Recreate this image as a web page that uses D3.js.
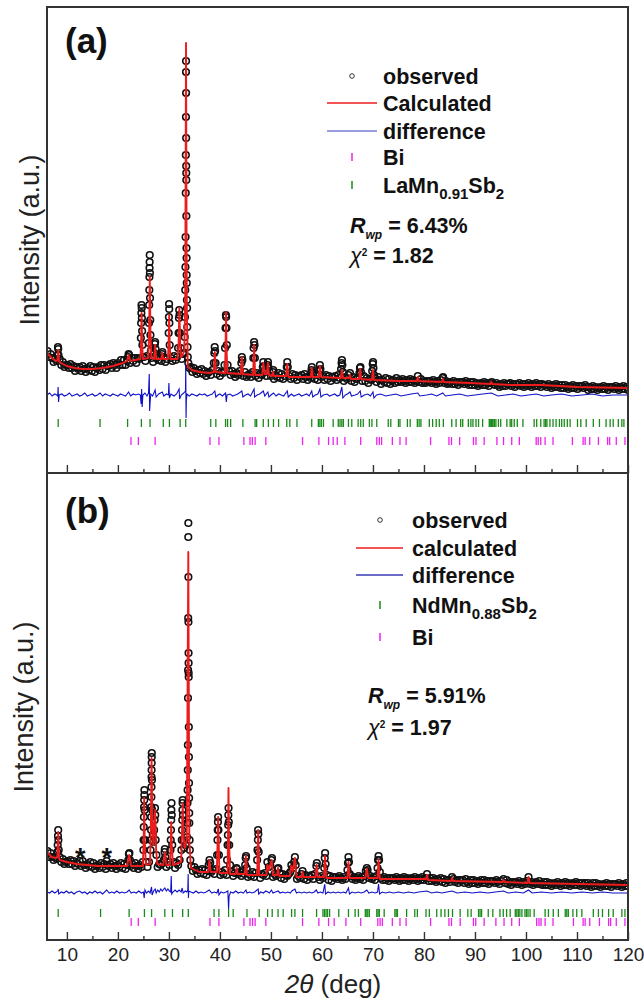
<!DOCTYPE html>
<html><head><meta charset="utf-8">
<script src="https://cdn.jsdelivr.net/npm/d3@7"></script>
<style>
body{margin:0;background:#fff}
svg{display:block;font-family:"Liberation Sans",Arial,Helvetica,sans-serif}
</style>
</head><body>
<svg id="chart" width="644" height="998"></svg>
<script>
// ---------- DATA (2theta in deg, intensity in a.u.) ----------
const xMajorTicks = [10,20,30,40,50,60,70,80,90,100,110,120];
const xMinorTicks = [15,25,35,45,55,65,75,85,95,105,115];

// Panel (a) LaMn0.91Sb2 : observed
const obsA = [[6.2,122],[6.5,116],[6.8,119],[7.1,115],[7.4,111],[7.7,114],[8.0,112],[8.2,118],[8.25,126],[8.3,124],[8.35,118],[8.6,114],[8.9,108],[9.2,111],[9.5,106],[9.8,108],[10.1,108],[10.4,105],[10.7,109],[11.0,105],[11.3,107],[11.6,102],[11.9,106],[12.2,104],[12.5,106],[12.8,102],[13.1,107],[13.4,104],[13.7,101],[14.0,105],[14.3,103],[14.6,107],[14.9,102],[15.2,106],[15.5,101],[15.8,105],[16.1,106],[16.4,103],[16.7,108],[17.0,104],[17.3,108],[17.6,103],[17.9,107],[18.2,107],[18.5,109],[18.8,105],[19.1,110],[19.4,108],[19.7,105],[20.0,110],[20.3,108],[20.6,113],[20.9,108],[21.2,113],[21.5,108],[21.8,112],[22.0,116],[22.1,119],[22.2,118],[22.4,110],[22.7,115],[23.0,112],[23.3,115],[23.6,110],[23.9,115],[24.2,114],
[24.5,135],[24.55,150],[24.6,160],[24.63,168],[24.67,165],[24.7,155],[24.75,142],[24.8,128],[24.9,116],[25.1,116],[25.4,112],[25.7,117],
[26.05,130],[26.1,150],[26.13,168],[26.16,183],[26.18,196],[26.2,205],[26.22,211],[26.24,218],[26.27,200],[26.3,175],[26.34,153],[26.38,138],[26.45,122],[26.6,115],[26.9,111],
[27.15,120],[27.25,129],[27.3,131],[27.38,124],[27.6,115],[27.9,113],[28.2,117],[28.5,112],[28.65,119],[28.72,121],[29.0,116],[29.3,111],[29.6,114],
[29.95,140],[30.0,156],[30.03,169],[30.06,164],[30.1,150],[30.15,128],[30.4,115],[30.7,112],[31.0,117],[31.3,113],[31.6,116],
[31.8,125],[31.9,140],[31.97,155],[32.02,163],[32.08,158],[32.15,140],[32.3,125],[32.5,114],[32.8,119],
[33.0,120],[33.1,136],[33.15,156],[33.2,183],[33.24,206],[33.27,236],[33.3,280],[33.32,318],[33.34,356],[33.35,401],[33.36,412],[33.37,380],[33.38,335],[33.39,307],[33.4,300],[33.41,293],[33.42,257],[33.44,225],[33.46,215],[33.48,198],[33.5,190],[33.53,173],[33.56,165],[33.6,146],[33.65,126],[33.7,116],[33.8,110],[34.0,105],
[34.3,106],[34.6,101],[34.9,105],[35.2,102],[35.5,99],[35.8,103],[36.1,100],[36.4,104],[36.7,99],[37.0,102],[37.3,97],[37.6,100],[37.9,101],[38.2,98],[38.5,103],
[38.8,110],[38.9,120],[38.98,126],[39.05,122],[39.15,110],[39.4,99],[39.7,102],[40.0,97],[40.3,101],[40.6,100],
[40.9,108],[41.0,125],[41.1,145],[41.17,158],[41.22,156],[41.28,145],[41.35,128],[41.5,108],[41.8,102],[42.1,98],[42.4,102],[42.7,99],[43.0,96],[43.3,100],[43.6,98],[43.9,102],
[44.2,110],[44.3,116],[44.4,113],[44.6,97],[44.9,101],[45.2,96],[45.5,98],[45.8,99],[46.1,96],[46.4,101],
[46.55,115],[46.6,125],[46.7,131],[46.78,128],[46.85,115],[47.0,97],[47.3,100],[47.6,95],[47.9,99],[48.2,98],[48.4,106],[48.5,111],[48.6,107],[48.8,101],[49.1,97],[49.35,108],[49.42,111],[49.5,106],[49.7,101],[50.0,97],[50.35,101],[50.45,103],[50.6,94],[50.9,98],[51.2,96],[51.5,100],[51.8,95],[52.1,99],[52.4,94],[52.7,97],[53.1,106],[53.2,111],[53.3,106],[53.6,97],[53.9,94],[54.2,99],[54.5,95],[54.8,98],[55.1,93],[55.4,97],[55.7,96],[56.0,98],[56.3,94],[56.6,99],[56.9,96],[57.2,93],[57.5,97],[57.8,95],[57.95,103],[58.02,106],[58.1,101],[58.3,99],[58.6,94],[58.9,98],[59.2,93],[59.5,103],[59.6,108],[59.7,104],[59.9,96],[60.2,97],[60.5,93],[60.8,98],[61.1,94],[61.4,97],[61.7,92],[62.0,96],[62.3,95],[62.6,97],[62.9,93],[63.2,98],[63.5,95],
[63.75,104],[63.85,110],[63.92,113],[64.0,108],[64.1,101],[64.3,92],[64.6,96],[64.9,94],[65.2,98],[65.5,100],[65.8,92],[66.1,96],[66.4,91],[66.7,94],[67.0,95],[67.35,100],[67.45,105],[67.55,106],[67.65,101],[67.9,92],[68.2,97],[68.5,92],[68.8,95],[69.1,90],[69.4,94],[69.7,93],[69.85,102],[69.95,109],[70.02,111],[70.1,105],[70.2,98],[70.4,95],[70.7,91],[71.0,96],[71.3,93],[71.6,89],[71.9,93],[72.2,91],[72.5,95],[72.8,90],[73.1,94],[73.4,89],[73.7,92],[74.0,93],[74.3,90],[74.6,95],[74.9,91],
[75.2,93],[75.5,91],[75.8,94],[76.1,92],[76.4,90],[76.7,93],[77.0,91],[77.3,94],[77.6,91],[77.9,93],[78.2,90],[78.5,92],[78.8,97],[79.1,91],[79.4,94],[79.7,90],[80.0,92],[80.3,90],[80.6,92],[80.9,91],[81.2,92],[81.5,90],[81.8,93],[82.1,91],[82.4,89],[82.7,92],[83.0,90],[83.3,93],[83.65,95],[83.75,96],[84.0,90],[84.3,92],[84.6,89],[84.9,90],[85.2,91],[85.5,89],[85.8,92],[86.1,89],[86.4,91],[86.7,88],[87.0,91],[87.3,90],[87.6,91],[87.9,89],[88.2,92],[88.5,90],[88.8,88],[89.1,91],[89.4,88],[89.7,91],[90.0,88],[90.3,90],[90.6,87],[90.9,89],[91.2,90],[91.5,88],[91.8,91],[92.1,88],[92.4,90],[92.7,87],[93.0,90],[93.3,91],[93.6,89],[93.9,88],[94.2,90],[94.5,88],[94.8,86],[95.1,89],[95.4,87],[95.7,90],[96.0,87],[96.3,89],[96.6,89],[96.9,90],[97.2,87],[97.5,89],[97.8,86],[98.1,89],[98.4,88],[98.7,90],[99.0,87],[99.3,89],[99.6,86],[99.9,89],[100.2,87],[100.5,90],[100.8,88],[101.1,86],[101.4,89],[101.7,87],[102.0,90],[102.3,87],[102.6,89],[102.9,86],[103.2,89],[103.5,88],[103.8,88],[104.1,86],[104.4,89],[104.7,87],[105.0,85],[105.3,88],[105.6,86],[105.9,89],[106.2,86],[106.5,88],[106.8,85],[107.1,88],[107.4,85],[107.7,88],[108.0,86],[108.3,84],[108.6,87],[108.9,85],[109.2,88],[109.5,85],[109.8,87],[110.1,84],[110.4,87],[110.7,86],[111.0,87],[111.3,85],[111.6,88],[111.9,86],[112.2,83],[112.5,86],[112.8,84],[113.1,87],[113.4,84],[113.7,86],[114.0,83],[114.3,85],[114.6,86],[114.9,84],[115.2,87],[115.5,84],[115.8,86],[116.1,83],[116.4,86],[116.7,85],[117.0,86],[117.3,84],[117.6,87],[117.9,85],[118.2,83],[118.5,86],[118.8,84],[119.1,87],[119.4,84],[119.7,86],[120.0,83]];

const calcA = [[6.1,120],[7.0,115],[7.9,112],[8.15,113],[8.3,123],[8.45,112],[8.8,110],[10,107],[11.5,105],[13,104],[15,104],[17,105],[19,107],[21,110],[21.8,112],[22.1,118],[22.4,112],[24.4,114],[24.55,130],[24.65,160],[24.75,130],[24.9,114],[25.95,115],[26.12,140],[26.25,196],[26.38,140],[26.55,115],[27.1,114],[27.3,128],[27.5,114],[28.5,114],[28.7,120],[28.9,114],[29.8,114],[29.95,130],[30.05,158],[30.15,130],[30.3,114],[31.7,114],[31.9,130],[32.05,165],[32.2,130],[32.35,116],[32.6,117],[33.0,122],[33.2,170],[33.35,430],[33.5,170],[33.7,106],[34.5,103],[36,101],[38,100],[38.8,101],[39.0,121],[39.2,101],[41.0,100],[41.1,125],[41.2,161],[41.3,125],[41.45,100],[44.1,99],[44.3,116],[44.5,99],[46.5,98],[46.7,128],[46.9,98],[48.3,98],[48.5,110],[48.8,99],[49.2,99],[49.4,110],[49.6,98],[50.2,97],[50.4,101],[50.6,97],[53.0,97],[53.2,109],[53.45,96],[57.8,96],[58.0,105],[58.2,96],[59.4,96],[59.6,107],[59.85,96],[63.7,95],[63.9,103],[64.1,95],[65.3,95],[65.5,98],[65.7,94],[67.3,94],[67.5,104],[67.7,94],[69.8,93],[70.0,103],[70.2,93],[75,92],[78.6,92],[78.8,96],[79.0,92],[83.5,91],[83.7,94],[83.9,91],[89,90],[93,89],[93.2,91],[93.4,89],[97,88],[100,88],[103,88],[110,86],[120,85]];

const diffA = [[6.1,78],[6.6,80],[7.1,77],[7.6,79],[8.0,78],[8.2,77],[8.28,86],[8.36,71],[8.5,78],[9.0,79],[9.5,77],[10.0,78],[10.5,80],[11.0,77],[11.5,78],[12.0,79],[12.5,77],[13.0,78],[13.5,80],[14.0,77],[14.5,78],[15.0,79],[15.5,77],[16.0,78],[16.5,80],[17.0,77],[17.5,79],[18.0,78],[18.5,77],[19.0,79],[19.5,78],[20.0,77],[20.5,79],[21.0,78],[21.5,77],[22.1,81],[22.5,77],[23.0,79],[23.5,78],[24.0,79],[24.4,78],[24.55,69],[24.65,84],[24.75,66],[24.9,78],[25.3,80],[25.7,77],[26.0,80],[26.15,99],[26.22,62],[26.3,70],[26.45,79],[26.8,77],[27.3,83],[27.5,76],[28.0,79],[28.7,81],[29.0,77],[29.5,79],[29.9,78],[30.0,90],[30.1,75],[30.4,79],[31.0,77],[31.5,79],[32.0,84],[32.1,74],[32.4,78],[32.9,80],[33.25,82],[33.3,108],[33.36,55],[33.42,73],[33.55,79],[34.0,77],[34.5,79],[35.0,78],[35.5,77],[36.0,79],[36.5,78],[37.0,79],[37.5,77],[38.0,78],[38.5,79],[39.0,82],[39.2,76],[39.6,78],[40.0,79],[40.5,77],[41.1,80],[41.25,71],[41.4,78],[42.0,79],[42.5,77],[43.0,78],[43.5,79],[44.3,82],[44.5,76],[45.0,78],[45.5,79],[46.0,77],[46.7,84],[46.8,76],[47.3,78],[47.8,79],[48.5,82],[48.8,77],[49.4,81],[49.6,76],[50.0,78],[50.5,80],[51.0,77],[51.5,79],[52.0,78],[52.5,77],[53.2,82],[53.4,76],[54.0,79],[54.5,77],[55.0,78],[55.5,79],[56.0,77],[56.5,78],[57.0,79],[57.5,77],[58.0,82],[58.2,76],[58.7,78],[59.2,79],[59.6,84],[59.8,76],[60.3,78],[61.0,79],[61.5,77],[62.0,78],[62.5,79],[63.0,77],[63.5,78],[63.9,86],[64.1,75],[64.6,78],[65.0,79],[65.5,81],[65.8,77],[66.5,78],[67.0,79],[67.5,82],[67.7,76],[68.3,78],[69.0,79],[69.5,77],[70.0,81],[70.2,75],[70.7,78],[71.5,79],[72.5,77],[73.5,78],[74.5,79],[75.5,77],[76.5,78],[77.5,79],[78.8,80],[79.2,77],[80.5,78],[81.5,79],[82.5,77],[83.7,80],[84.2,77],[85.5,78],[87,79],[88.5,77],[90,78],[91.5,79],[93.2,80],[94.5,77],[96,78],[97.5,79],[99,77],[100.5,78],[102,79],[103.5,77],[105,78],[107,79],[109,77],[111,78],[113,79],[115,77],[117,78],[120,78]];

const lamnTicks = [8.3,16.5,21.9,24.6,26.3,28.9,30.1,32.2,33.3,38.2,39.2,41.1,41.5,42.1,44.5,46.9,47.2,48.5,49.5,50.5,51.5,53.1,53.7,55.1,58.0,59.3,59.6,59.9,60.3,62.2,63.2,63.55,63.9,64.2,65.2,65.85,67.1,67.6,68.1,69.3,69.8,70.75,73.0,73.5,75.0,75.3,76.75,77.3,78.7,79.05,79.4,81.05,81.7,82.4,83.0,83.8,85.45,86.3,87.2,87.6,88.7,89.2,89.6,90.2,90.7,91.5,92.8,93.0,93.2,93.4,93.55,93.8,94.1,94.6,95.05,96.25,96.9,97.2,97.7,98.3,99.4,101.6,102.1,102.9,103.55,103.85,104.1,104.7,105.3,105.9,106.55,107.0,107.5,108.1,108.65,110.1,110.75,111.8,113.2,114.4,115.7,116.5,117.1,118.1,118.8,119.2];
const biTicksA = [22.57,24.0,27.3,38.05,39.8,44.7,45.9,46.35,46.9,49.0,56.2,59.4,61.3,62.2,63.0,64.5,67.6,70.75,71.25,71.7,73.8,75.3,76.5,81.3,84.9,85.4,87.0,89.7,90.2,91.8,94.3,95.6,97.2,98.7,102.0,102.4,102.9,103.75,105.3,109.1,111.2,111.6,112.5,114.2,116.0,116.4,117.7,119.4];

// Panel (b) NdMn0.88Sb2 : observed
const obsB = [[6.2,89],[6.5,83],[6.8,87],[7.1,83],[7.4,80],[7.7,83],[8.0,81],[8.15,88],[8.2,95],[8.25,104],[8.3,110],[8.33,100],[8.4,90],[8.6,83],[8.9,78],[9.2,81],[9.5,76],[9.8,78],[10.1,79],[10.4,76],[10.7,80],[11.0,76],[11.3,79],[11.6,74],[11.9,77],[12.2,76],[12.5,79],[12.8,74],[13.1,79],[13.4,75],[13.7,72],[14.0,76],[14.3,74],[14.6,78],[14.9,73],[15.2,77],[15.5,71],[15.8,74],[16.1,75],[16.4,72],[16.7,77],[17.0,73],[17.3,76],[17.6,71],[17.8,79],[17.9,75],[18.2,74],[18.5,76],[18.8,72],[19.1,77],[19.4,74],[19.7,71],[20.0,75],[20.3,73],[20.6,77],[20.9,72],[21.2,76],[21.5,71],[21.8,75],[22.05,80],[22.15,86],[22.25,87],[22.35,80],[22.5,74],[22.8,76],[23.1,72],[23.4,77],[23.7,74],[24.0,71],[24.3,75],[24.6,73],[24.85,78],
[25.0,90],[25.04,100],[25.07,113],[25.1,123],[25.13,133],[25.16,140],[25.18,145],[25.2,150],[25.24,130],[25.32,100],[25.5,78],[25.8,73],[26.1,78],
[26.4,90],[26.45,100],[26.5,110],[26.53,123],[26.55,133],[26.57,143],[26.58,153],[26.6,163],[26.61,170],[26.62,177],[26.63,183],[26.64,187],[26.67,160],[26.72,130],[26.85,105],[26.95,98],
[27.1,110],[27.2,120],[27.27,132],[27.32,125],[27.4,100],[27.55,85],[27.8,73],[28.1,76],[28.4,75],[28.7,77],[29.0,80],[29.15,88],[29.2,91],[29.3,83],[29.5,73],[29.8,78],[30.1,75],
[30.3,90],[30.36,100],[30.41,110],[30.45,120],[30.48,130],[30.51,137],[30.56,125],[30.65,95],[30.9,78],[31.2,72],[31.5,77],[31.8,75],[32.1,80],
[32.45,90],[32.52,100],[32.57,110],[32.62,120],[32.65,130],[32.68,137],[32.7,140],[32.75,125],[32.85,100],[33.0,92],[33.3,95],
[33.55,103],[33.6,117],[33.64,137],[33.67,150],[33.7,170],[33.72,195],[33.74,242],[33.76,270],[33.78,322],[33.8,403],[33.81,417],[33.82,363],[33.83,318],[33.85,287],[33.86,277],[33.87,267],[33.88,263],[33.9,213],[33.92,183],[33.94,157],[33.96,142],[33.98,127],[34.0,117],[34.05,100],[34.1,90],[34.2,80],
[34.4,74],[34.7,69],[35.0,73],[35.3,70],[35.6,66],[35.9,70],[36.2,67],[36.5,71],[36.8,66],[37.1,70],[37.4,65],[37.7,69],[37.8,75],[37.95,80],[38.1,77],[38.3,68],[38.6,70],[38.9,66],[39.2,71],
[39.45,85],[39.52,100],[39.57,110],[39.61,118],[39.65,123],[39.7,110],[39.8,85],[40.1,65],[40.4,68],[40.7,66],[41.0,70],[41.3,65],
[41.4,80],[41.5,95],[41.56,105],[41.61,115],[41.65,125],[41.69,132],[41.74,118],[41.82,95],[42.0,75],[42.3,68],[42.6,64],[42.9,67],[43.25,72],[43.35,71],[43.6,66],[43.9,68],[44.2,64],[44.5,69],[44.8,66],
[44.95,75],[45.05,82],[45.12,84],[45.25,72],[45.5,63],[45.8,66],[46.1,64],[46.4,68],[46.7,63],[47.0,67],
[47.3,80],[47.37,90],[47.43,100],[47.48,110],[47.53,106],[47.6,88],[47.9,62],[48.2,66],[48.5,65],[48.8,67],[49.1,64],[49.3,78],[49.6,73],[49.9,74],[50.1,80],[50.2,82],[50.4,63],[50.7,66],[51.0,64],[51.35,71],[51.45,72],[51.7,67],[52.0,62],[52.3,66],[52.6,61],[52.9,65],[53.2,64],[53.5,66],[53.8,68],[54.0,75],[54.3,72],[54.55,78],[54.7,83],[54.85,75],[55.1,61],[55.4,64],[55.7,62],[56.0,66],[56.2,69],[56.5,61],[56.8,65],[57.1,60],[57.4,64],[57.7,63],[58.0,65],[58.3,61],[58.6,66],[58.9,74],[59.0,77],[59.3,63],[59.6,60],[59.9,64],[60.2,62],[60.45,72],[60.55,82],[60.62,87],[60.72,76],[61.0,65],[61.3,60],[61.6,64],[61.9,59],[62.2,63],[62.5,62],
[62.8,63],[63.1,61],[63.4,64],[63.7,62],[64.0,60],[64.3,63],[64.6,61],[65.0,70],[65.1,77],[65.2,83],[65.3,78],[65.45,66],[65.7,64],[66.0,61],[66.3,63],[66.6,60],[66.9,62],[67.2,64],[67.5,61],[67.8,63],[68.1,60],[68.4,64],[68.6,69],[68.8,72],[68.95,70],[69.2,62],[69.5,64],[69.8,61],[70.1,63],[70.4,60],[70.7,64],[70.9,72],[71.0,80],[71.1,84],[71.2,80],[71.35,68],
[71.6,62],[71.9,60],[72.2,63],[72.5,60],[72.8,62],[73.1,59],[73.4,62],[73.7,61],[74.0,62],[74.3,60],[74.6,63],[74.9,61],[75.2,59],[75.5,62],[75.8,60],[76.1,63],[76.4,60],[76.7,62],[77.0,59],[77.3,61],[77.6,62],[77.9,60],[78.2,63],[78.5,61],[78.8,59],[79.1,62],[79.4,60],[79.7,63],[80.0,60],[80.3,62],[80.6,66],[80.9,59],[81.2,62],[81.5,59],[81.8,62],[82.1,60],[82.4,58],[82.7,61],[83.0,59],[83.3,62],[83.6,58],[83.9,61],[84.2,57],[84.5,60],[84.8,60],[85.1,58],[85.5,63],[85.8,61],[86.1,58],[86.4,60],[86.7,57],[87.0,60],[87.3,59],[87.6,60],[87.9,57],[88.2,61],[88.5,58],[88.8,56],[89.1,60],[89.4,57],[89.7,60],[90.0,57],[90.3,59],[90.6,56],[90.9,58],[91.2,60],[91.5,57],[91.8,60],[92.1,57],[92.4,59],[92.7,56],[93.0,59],[93.3,58],[93.6,59],[93.9,57],[94.2,60],[94.5,58],[94.8,56],[95.1,59],[95.6,61],[95.9,57],[96.2,60],[96.5,56],[96.8,58],[97.1,55],[97.4,58],[97.7,57],[98.0,58],[98.3,56],[98.6,59],[98.9,57],[99.2,55],[99.5,58],[99.8,56],[100.2,59],[100.5,63],[100.8,56],[101.1,58],[101.4,55],[101.7,57],[102.0,58],[102.3,56],[102.6,59],[102.9,56],[103.2,55],[103.5,58],[103.8,55],[104.1,58],[104.4,55],[104.7,57],[105.0,54],[105.3,56],[105.6,57],[105.9,55],[106.2,58],[106.5,56],[106.8,54],[107.1,57],[107.4,55],[107.7,58],[108.0,55],[108.3,57],[108.6,54],[108.9,56],[109.2,57],[109.5,55],[109.8,58],[110.1,55],[110.4,57],[110.7,54],[111.0,57],[111.3,55],[111.6,57],[111.9,54],[112.2,57],[112.5,55],[112.8,53],[113.1,57],[113.4,54],[113.7,57],[114.0,54],[114.3,56],[114.6,53],[114.9,55],[115.2,56],[115.5,54],[115.8,57],[116.1,54],[116.4,56],[116.7,53],[117.0,56],[117.3,55],[117.6,56],[117.9,54],[118.2,57],[118.5,55],[118.8,53],[119.1,56],[119.4,54],[119.7,57],[120.0,54]];

const calcB = [[6.1,88],[7.0,83],[7.9,82],[8.15,84],[8.3,108],[8.45,82],[8.6,80],[10,78],[12,76],[14,75],[16,74],[18,74],[20,74],[21.8,74],[22.2,85],[22.6,74],[24.9,74],[25.05,100],[25.15,142],[25.25,100],[25.5,75],[26.3,76],[26.45,110],[26.6,182],[26.75,120],[26.95,95],[27.3,130],[27.5,90],[27.7,76],[28.9,75],[29.2,88],[29.5,75],[30.2,75],[30.35,95],[30.45,118],[30.55,95],[30.8,75],[32.4,78],[32.55,105],[32.7,137],[32.85,105],[33.1,92],[33.5,100],[33.8,388],[34.0,100],[34.3,72],[36,68],[37.7,68],[37.95,80],[38.2,68],[39.4,68],[39.65,123],[39.9,67],[41.5,67],[41.58,100],[41.68,152],[41.78,100],[42.0,66],[43.1,66],[43.3,72],[43.5,66],[44.9,66],[45.1,84],[45.3,65],[47.3,65],[47.5,110],[47.7,65],[49.1,65],[49.3,75],[49.6,70],[50.15,80],[50.4,65],[51.2,65],[51.4,72],[51.6,64],[53.7,64],[54.0,74],[54.3,69],[54.7,82],[55.0,63],[56.0,63],[56.2,68],[56.4,63],[58.75,63],[58.95,75],[59.2,63],[60.4,63],[60.6,84],[60.85,62],[65.0,62],[65.2,78],[65.45,62],[68.5,62],[68.8,71],[69.1,62],[70.9,62],[71.1,80],[71.35,61],[80.4,61],[80.6,65],[80.8,60],[85.3,59],[85.5,62],[85.7,59],[95.4,58],[95.6,60],[95.8,58],[100.3,57],[100.5,63],[100.7,57],[110,56],[120,55]];

const diffB = [[6.1,48],[6.6,47],[7.1,49],[7.6,47],[8.2,49],[8.3,51],[8.4,46],[8.9,48],[9.4,47],[9.9,49],[10.4,47],[10.9,48],[11.4,46],[11.9,48],[12.5,49],[13.0,47],[13.5,48],[14.0,46],[14.5,48],[15.0,47],[15.5,49],[16.0,47],[16.5,48],[17.0,46],[17.8,50],[18.3,47],[18.8,48],[19.3,47],[19.8,49],[20.3,47],[20.8,48],[21.3,47],[21.8,48],[22.2,50],[22.6,47],[23.1,48],[23.6,47],[24.1,49],[24.6,47],[25.0,48],[25.15,42],[25.3,50],[25.6,47],[26.0,49],[26.3,47],[26.6,53],[26.7,45],[27.0,49],[27.3,51],[27.5,47],[27.8,50],[28.1,48],[28.4,51],[28.7,49],[29.0,51],[29.2,52],[29.5,49],[29.8,51],[30.1,49],[30.35,48],[30.45,64],[30.55,46],[30.8,48],[31.2,50],[31.6,48],[32.0,50],[32.4,48],[32.6,52],[32.8,47],[33.2,49],[33.5,48],[33.7,50],[33.78,66],[33.82,42],[33.9,49],[34.3,48],[34.8,47],[35.3,49],[35.8,47],[36.3,48],[36.8,47],[37.3,48],[37.9,50],[38.4,47],[38.9,48],[39.4,47],[39.7,51],[39.8,45],[40.2,48],[40.7,47],[41.2,48],[41.55,49],[41.7,31],[41.8,44],[42.1,48],[42.6,47],[43.1,49],[43.6,47],[44.1,48],[44.6,47],[45.1,50],[45.3,47],[45.8,48],[46.3,47],[46.8,48],[47.5,51],[47.6,46],[48.0,48],[48.5,47],[49.0,49],[49.4,48],[49.7,47],[50.1,50],[50.4,47],[50.9,48],[51.4,49],[51.8,47],[52.3,48],[52.8,47],[53.3,48],[53.8,47],[54.1,49],[54.7,51],[55.0,47],[55.5,48],[56.0,47],[56.5,48],[57.0,47],[57.5,48],[58.0,47],[58.5,48],[58.9,50],[59.2,47],[59.7,48],[60.2,47],[60.55,56],[60.7,46],[61.2,48],[61.7,47],[62.2,48],[62.7,47],[63.2,48],[63.7,47],[64.2,48],[64.7,47],[65.2,52],[65.4,46],[65.9,48],[66.5,47],[67.1,48],[67.7,47],[68.3,48],[68.8,50],[69.2,47],[69.8,48],[70.4,47],[70.9,48],[71.1,56],[71.3,46],[71.8,48],[72.5,47],[73.2,48],[74,47],[75,48],[76,47],[77,48],[78,47],[79,48],[80.6,49],[81.5,47],[82.5,48],[83.5,47],[84.5,48],[85.5,49],[86.5,47],[88,48],[89.5,47],[91,48],[92.5,47],[94,48],[95.6,49],[96.5,47],[98,48],[99.5,47],[100.5,50],[101.2,47],[103,48],[105,47],[107,48],[109,47],[111,48],[113,47],[115,48],[117,47],[120,47]];

const ndmnTicks = [8.3,16.6,22.2,25.2,26.6,29.2,30.7,32.7,33.8,38.85,39.8,41.7,42.6,45.3,47.7,49.35,50.25,51.4,52.4,54.05,54.7,56.2,58.95,60.2,60.5,60.8,61.1,61.5,63.3,65.2,66.5,67.15,68.5,68.8,69.0,69.3,70.75,71.0,71.25,72.2,74.3,74.55,74.8,76.6,78.2,78.7,80.4,81.05,82.5,83.35,84.1,84.8,85.6,87.1,88.6,89.25,90.7,91.0,91.3,92.6,93.5,94.9,95.55,96.2,96.9,97.9,98.2,98.5,98.8,99.2,99.8,100.1,100.4,100.8,101.6,103.75,104.4,105.35,106.35,107.7,108.0,108.3,109.2,109.95,110.95,113.2,114.2,115.0,116.2,117.1,118.8,119.4];
const biTicksB = [22.6,24.0,27.3,38.05,39.8,44.7,45.9,46.4,46.9,49.0,56.2,59.4,61.3,62.4,64.7,67.6,70.95,71.4,71.85,73.8,75.3,76.5,81.3,84.9,85.4,87.1,89.7,90.15,91.8,94.1,95.7,97.2,98.7,102.1,102.55,102.95,103.75,105.3,109.3,111.2,111.6,112.5,114.4,116.2,116.6,117.7,119.4];
const impurityMarksB = [[12.6,88],[17.8,88]];

// ---------- DRAWING ----------
const svg = d3.select("#chart");
const X0 = 47, X1 = 628;
const x = d3.scaleLinear().domain([6.1, 120]).range([X0, X1]);

const RED = "#ec1c1c", BLUE = "#1010c8", GREEN = "#1a8a1a", MAGENTA = "#ee22ee", FRAME = "#333";

function drawPanel(cfg) {
  const y = d3.scaleLinear().domain([0, cfg.bottom - cfg.top]).range([cfg.bottom, cfg.top]);
  const g = svg.append("g");
  const clipId = "clip-" + cfg.id;
  svg.append("clipPath").attr("id", clipId).append("rect")
    .attr("x", X0).attr("y", cfg.top).attr("width", X1 - X0).attr("height", cfg.bottom - cfg.top);
  const plot = g.append("g").attr("clip-path", `url(#${clipId})`);

  plot.append("g").selectAll("circle").data(cfg.obs).join("circle")
    .attr("cx", d => x(d[0])).attr("cy", d => y(d[1])).attr("r", 3.3)
    .attr("fill", "none").attr("stroke", "#111").attr("stroke-width", 1.6);

  const line = d3.line().x(d => x(d[0])).y(d => y(d[1]));
  plot.append("path").datum(cfg.calc).attr("d", line)
    .attr("fill", "none").attr("stroke", RED).attr("stroke-width", 1.9).attr("stroke-linejoin", "round");
  plot.append("path").datum(cfg.diff).attr("d", line)
    .attr("fill", "none").attr("stroke", BLUE).attr("stroke-width", 1.1);

  cfg.rows.forEach(r => {
    plot.append("g").selectAll("line").data(r.ticks).join("line")
      .attr("x1", d => x(d)).attr("x2", d => x(d))
      .attr("y1", y(r.lo)).attr("y2", y(r.hi))
      .attr("stroke", r.color).attr("stroke-width", 1.3);
  });

  if (cfg.marks) {
    plot.append("g").selectAll("text").data(cfg.marks).join("text")
      .attr("x", d => x(d[0])).attr("y", d => y(d[1]) + 15)
      .attr("text-anchor", "middle").attr("font-size", 27).attr("font-weight", "bold")
      .attr("fill", "#111").text("*");
  }

  const major = d3.axisBottom(x).tickValues(xMajorTicks).tickSize(-8).tickPadding(8);
  if (!cfg.labels) major.tickFormat("");
  const ax = g.append("g").attr("transform", `translate(0,${cfg.bottom})`).call(major);
  ax.select(".domain").remove();
  ax.selectAll(".tick line").attr("stroke", FRAME).attr("stroke-width", 1.4);
  ax.selectAll("text").attr("font-size", 19).attr("fill", "#222")
    .attr("font-family", "'Liberation Sans',Arial,sans-serif");
  const minor = d3.axisBottom(x).tickValues(xMinorTicks).tickSize(-4).tickFormat("");
  const axm = g.append("g").attr("transform", `translate(0,${cfg.bottom})`).call(minor);
  axm.select(".domain").remove();
  axm.selectAll(".tick line").attr("stroke", FRAME).attr("stroke-width", 1.4);

  g.append("rect").attr("x", X0).attr("y", cfg.top).attr("width", X1 - X0).attr("height", cfg.bottom - cfg.top)
    .attr("fill", "none").attr("stroke", FRAME).attr("stroke-width", 2);

  g.append("text").attr("transform", `translate(${cfg.ytX},${cfg.ytY}) rotate(-90)`)
    .attr("text-anchor", "middle").attr("font-size", 27).attr("fill", "#222").text("Intensity (a.u.)");

  g.append("text").attr("x", 65).attr("y", cfg.labelY).attr("font-size", 35).attr("font-weight", "bold")
    .attr("fill", "#111").text(cfg.label);

  const L = cfg.legend;
  const lg = g.append("g").attr("font-size", 21.5).attr("font-weight", "bold").attr("fill", "#111");
  L.items.forEach((it, i) => {
    const cy = L.rows[i];
    if (it.type === "circle") {
      lg.append("circle").attr("cx", L.mx).attr("cy", cy).attr("r", 2.3).attr("fill", "none").attr("stroke", "#333").attr("stroke-width", 1);
    } else if (it.type === "line") {
      lg.append("line").attr("x1", L.lx0).attr("x2", L.lx1).attr("y1", cy).attr("y2", cy).attr("stroke", it.color).attr("stroke-width", 1.6);
    } else {
      lg.append("line").attr("x1", L.mx).attr("x2", L.mx).attr("y1", cy - 4).attr("y2", cy + 4).attr("stroke", it.color).attr("stroke-width", 1.5);
    }
    const t = lg.append("text").attr("x", L.tx).attr("y", cy + 7.5);
    it.parts.forEach(p => {
      const s = t.append("tspan").text(p[0]);
      if (p[1] === "sub") s.attr("font-size", 15).attr("dy", 6);
      if (p[1] === "back") s.attr("dy", -6);
    });
  });
  const r = lg.append("text").attr("x", L.sx).attr("y", L.rwpY);
  r.append("tspan").attr("font-style", "italic").text("R");
  r.append("tspan").attr("font-style", "italic").attr("font-size", 12).attr("dy", 6).text("wp");
  r.append("tspan").attr("dy", -6).text(" = " + cfg.rwp);
  const c = lg.append("text").attr("x", L.sx).attr("y", L.chiY);
  c.append("tspan").attr("font-style", "italic").attr("font-weight", "normal").text("\u03C7");
  c.append("tspan").attr("font-size", 10).attr("dy", -7).text("2");
  c.append("tspan").attr("dy", 7).text(" = " + cfg.chi2);
}

drawPanel({
  id: "a", top: 7, bottom: 473, obs: obsA, calc: calcA, diff: diffA, labels: false,
  rows: [{ticks: lamnTicks, color: GREEN, lo: 46, hi: 54}, {ticks: biTicksA, color: MAGENTA, lo: 28, hi: 36}],
  ytX: 39, ytY: 240, label: "(a)", labelY: 53, rwp: "6.43%", chi2: "1.82",
  legend: {
    mx: 352, lx0: 327, lx1: 377, tx: 383, sx: 350, rwpY: 233, chiY: 263,
    rows: [76, 103, 131, 157, 185],
    items: [
      {type: "circle", parts: [["observed"]]},
      {type: "line", color: RED, parts: [["Calculated"]]},
      {type: "line", color: "#7a7ad6", parts: [["difference"]]},
      {type: "tick", color: MAGENTA, parts: [["Bi"]]},
      {type: "tick", color: GREEN, parts: [["LaMn"], ["0.91", "sub"], ["Sb", "back"], ["2", "sub"]]}
    ]
  }
});

drawPanel({
  id: "b", top: 473, bottom: 940, obs: obsB, calc: calcB, diff: diffB, labels: true, marks: impurityMarksB,
  rows: [{ticks: ndmnTicks, color: GREEN, lo: 23, hi: 31}, {ticks: biTicksB, color: MAGENTA, lo: 14, hi: 22}],
  ytX: 33, ytY: 707, label: "(b)", labelY: 523, rwp: "5.91%", chi2: "1.97",
  legend: {
    mx: 380, lx0: 356, lx1: 403, tx: 412, sx: 368, rwpY: 703, chiY: 735,
    rows: [520, 548, 575, 605, 637],
    items: [
      {type: "circle", parts: [["observed"]]},
      {type: "line", color: RED, parts: [["calculated"]]},
      {type: "line", color: "#3a3ab8", parts: [["difference"]]},
      {type: "tick", color: GREEN, parts: [["NdMn"], ["0.88", "sub"], ["Sb", "back"], ["2", "sub"]]},
      {type: "tick", color: MAGENTA, parts: [["Bi"]]}
    ]
  }
});

const xt = svg.append("text").attr("x", 333).attr("y", 993).attr("text-anchor", "middle")
  .attr("font-size", 26).attr("fill", "#222");
xt.append("tspan").attr("font-style", "italic").text("2\u03B8");
xt.append("tspan").text(" (deg)");
</script>
</body></html>
